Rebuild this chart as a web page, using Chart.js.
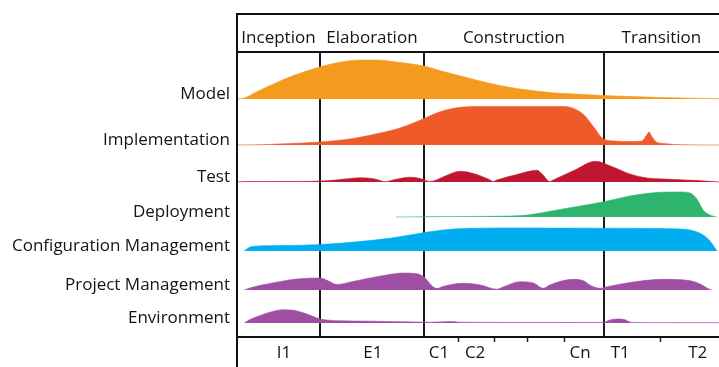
<!DOCTYPE html>
<html lang="en">
<head>
<meta charset="UTF-8">
<title>RUP - disciplinas por fase</title>
<script src="https://cdn.jsdelivr.net/npm/chart.js"></script>
<style>
  body { margin: 0; background: #fff; overflow: hidden; }
  #wrap { width: 719px; height: 367px; }
</style>
</head>
<body>
<div id="wrap"><canvas id="grafico"></canvas></div>

<script>
// disciplinas, de arriba a abajo
const disciplines = ['Model', 'Implementation', 'Test', 'Deployment', 'Configuration Management', 'Project Management', 'Environment'];
const colors = ['#F39A1F', '#EF5A29', '#C01730', '#2DB46F', '#00AEEF', '#9E4FA3', '#9E4FA3'];

// fases y sus limites (semana 0..100)
const phases = ['Inception', 'Elaboration', 'Construction', 'Transition'];
const phaseBounds = [0, 17.2, 38.8, 76.1, 100];

// iteraciones del eje inferior
const iterations = ['I1', 'E1', 'C1', 'C2', 'Cn', 'T1', 'T2'];
const iterationAt = [9.75, 28.2, 41.9, 49.4, 71.2, 79.5, 95.6];
const minorTicks = [45.9, 53.5, 60.2, 68, 87.8];

// esfuerzo de cada disciplina: [semana, esfuerzo]
const model = [[0,0],[1.2,0.5],[4,7],[8,16],[12,24],[17.2,32],[21,36.5],[26,39],[29,39],[33,37],[38.8,33],[42,28.5],[46,23.5],[50,18.5],[54,14],[58,10.5],[62,8],[66,6],[70,5],[76,3.5],[82,2.4],[88,1.5],[94,0.8],[100,0.2]];
const implementation = [[0,0],[5,0.3],[10,1.2],[17.2,3],[23.4,6],[29.7,12],[33.8,17],[38.6,26],[42,33],[46,37.5],[50,38.5],[68,38.5],[70.5,35],[72,30],[74,18],[76,6],[78,4],[82,3.5],[84,4],[85,10],[85.5,13],[86,9],[87,3],[88.5,1.5],[92,0.3],[100,0]];
const test = [[0,0],[2,0.5],[13,0.6],[18.7,1.2],[22.4,3],[25.5,4.3],[28.6,3],[30.7,0.3],[32.8,2.5],[35.9,4.8],[38,3.5],[40,0.5],[41.1,1.5],[43.2,6],[46.3,10.7],[49.4,8],[52.5,2],[53.1,0.5],[53.9,2],[58.1,7.5],[62.2,11.7],[63.3,8],[64.9,0.5],[65.6,2],[70.1,12],[74.3,20.7],[78,15],[81.5,8],[85.1,4],[88.4,3],[95.4,1.5],[98.8,0.5],[100,0]];
const deployment = [[33,0],[40,0.3],[50,0.6],[59.3,1.5],[63,4],[67.6,8],[71.8,11.5],[75.9,15],[81.5,21],[85,23.5],[87.8,24.7],[92,25],[94,24],[95.4,18],[96.7,7],[98.1,2],[99.5,0]];
const configuration = [[1.5,0],[2.3,3],[3.5,4.8],[10,5.5],[17.2,6.5],[22,8],[27.6,10.5],[32,13],[35.9,16],[39,18.5],[42.7,21],[48.3,22.7],[60,23],[75,22.8],[88,22.5],[92,22],[94,21],[96.7,16],[98.3,9],[99.3,2],[99.6,0]];
const projectMgmt = [[1.5,0],[3,2.5],[6.8,6.5],[12.4,11],[17.2,12],[19,9],[20.7,5.5],[24,8.5],[27.6,12],[31,15],[34.4,17],[37,16.5],[38.5,14],[39.4,10],[40.5,4],[41.5,1.5],[42.7,3.5],[46.9,6.7],[50.5,5],[53.9,0.8],[55.2,3],[58.7,8.3],[61.5,7],[63.5,1.7],[64.9,5],[69.7,10.7],[72,9],[73.2,5],[75.3,1.7],[76.8,3.3],[81.5,7.5],[88.4,10.7],[94,9.3],[96.1,6],[98.1,0.5],[98.5,0]];
const environment = [[1.5,0],[2.5,3],[4.8,7.5],[7,11],[9.5,13.3],[12,12.5],[14.5,9],[17.2,4],[19,2.8],[21.4,2.2],[28,1.8],[33.8,1.3],[40,0.8],[43,1.2],[44.5,1.5],[46,0.8],[55,0.6],[70,0.5],[75.9,0.6],[77.4,3],[78.8,4],[80.5,3.3],[81.8,0.6],[88,0.3],[100,0.2]];

const efforts = [model, implementation, test, deployment, configuration, projectMgmt, environment];

// linea base de cada carril en el eje y (0..285)
const laneBase = [238, 192, 155, 120, 86, 47, 14];

const fuente = { family: 'Open Sans', size: 17 };
const tinta = '#141414';

const datasets = disciplines.map((name, i) => ({
    label: name,
    data: efforts[i].map(p => ({ x: p[0], y: laneBase[i] + p[1] })),
    fill: { value: laneBase[i] },
    backgroundColor: colors[i],
    borderColor: colors[i],
    borderWidth: 0.6,
    pointRadius: 0,
    cubicInterpolationMode: 'monotone'
}));

// ticks de la cabecera: limites interiores y centros de fase
const phaseMid = phases.map((p, i) => (phaseBounds[i] + phaseBounds[i + 1]) / 2);
const innerBounds = phaseBounds.slice(1, -1);
const headerTicks = innerBounds.concat(phaseMid).sort((a, b) => a - b);

const bottomTicks = iterationAt.concat(minorTicks).sort((a, b) => a - b);

// marco: linea superior y borde izquierdo completo
const marco = {
    id: 'marco',
    afterDraw(chart) {
        const { ctx, chartArea } = chart;
        ctx.save();
        ctx.strokeStyle = '#111';
        ctx.lineWidth = 2;
        ctx.beginPath();
        ctx.moveTo(chartArea.left, chart.height);
        ctx.lineTo(chartArea.left, 14);
        ctx.lineTo(chart.width, 14);
        ctx.stroke();
        ctx.restore();
    }
};

new Chart(document.getElementById('grafico'), {
    type: 'line',
    data: { datasets: datasets },
    plugins: [marco],
    options: {
        responsive: true,
        maintainAspectRatio: false,
        animation: false,
        layout: { autoPadding: false, padding: 0 },
        plugins: { legend: { display: false }, tooltip: { enabled: false } },
        scales: {
            x: {
                type: 'linear', position: 'bottom', min: 0, max: 100,
                afterBuildTicks: s => { s.ticks = bottomTicks.map(v => ({ value: v })); },
                afterFit: s => { s.height = 30; },
                grid: {
                    drawOnChartArea: false,
                    tickLength: 5,
                    tickWidth: 1.5,
                    tickColor: c => (c.tick && minorTicks.includes(c.tick.value)) ? '#222' : 'rgba(0,0,0,0)'
                },
                border: { display: true, color: '#111', width: 2 },
                ticks: {
                    autoSkip: false, maxRotation: 0, padding: 1,
                    font: fuente, color: tinta,
                    callback: v => { const k = iterationAt.indexOf(v); return k >= 0 ? iterations[k] : ''; }
                }
            },
            x2: {
                type: 'linear', position: 'top', min: 0, max: 100,
                afterBuildTicks: s => { s.ticks = headerTicks.map(v => ({ value: v })); },
                afterFit: s => { s.height = 52; },
                grid: {
                    drawTicks: false,
                    lineWidth: 2,
                    color: c => (c.tick && innerBounds.includes(c.tick.value)) ? '#1a1a1a' : 'rgba(0,0,0,0)'
                },
                border: { display: true, color: '#111', width: 2 },
                ticks: {
                    autoSkip: false, maxRotation: 0, padding: 4,
                    font: fuente, color: tinta,
                    callback: v => { const k = phaseMid.indexOf(v); return k >= 0 ? phases[k] : ''; }
                }
            },
            y: {
                type: 'linear', min: 0, max: 285,
                afterBuildTicks: s => { s.ticks = laneBase.map(v => ({ value: v + 5 })); },
                afterFit: s => { s.width = 237; },
                grid: { display: false, drawTicks: false },
                border: { display: true, color: '#111', width: 2 },
                ticks: {
                    padding: 7, font: fuente, color: tinta,
                    callback: (v, i) => disciplines[i]
                }
            }
        }
    }
});
</script>
</body>
</html>
